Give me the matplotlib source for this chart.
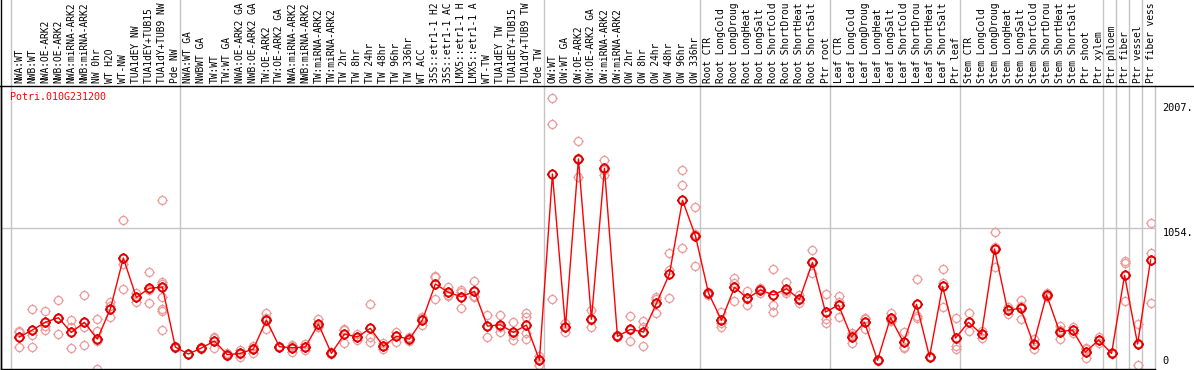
import matplotlib
matplotlib.use("Agg")
import matplotlib.pyplot as plt
from matplotlib.path import Path
from matplotlib.lines import Line2D
import matplotlib.transforms as mtransforms

title = "Potri.010G231200"

labels = [
    "NWA:WT", "NWB:WT", "NWA:OE-ARK2", "NWB:OE-ARK2", "NWA:miRNA-ARK2", "NWB:miRNA-ARK2",
    "NW 0hr", "WT H2O", "WT-NW", "TUA1dEY NW", "TUA1dEY+TUB15 NW", "TUA1dY+TUB9 NW", "Pde NW",
    "NWA:WT GA", "NWBWT GA", "TW:WT", "TW:WT GA", "NWA:OE-ARK2 GA", "NWB:OE-ARK2 GA",
    "TW:OE-ARK2", "TW:OE-ARK2 GA", "NWA:miRNA-ARK2", "NWB:miRNA-ARK2", "TW:miRNA-ARK2",
    "TW:miRNA-ARK2", "TW 2hr", "TW 8hr", "TW 24hr", "TW 48hr", "TW 96hr", "TW 336hr", "WT ACC",
    "35S::etr1-1 H2O", "35S::etr1-1 ACC", "LMX5::etr1-1 H2O", "LMX5::etr1-1 ACC", "WT-TW",
    "TUA1dEY TW", "TUA1dEY+TUB15 TW", "TUA1dY+TUB9 TW", "Pde TW",
    "OW:WT", "OW:WT GA", "OW:OE-ARK2", "OW:OE-ARK2 GA", "OW:miRNA-ARK2", "OW:miRNA-ARK2",
    "OW 2hr", "OW 8hr", "OW 24hr", "OW 48hr", "OW 96hr", "OW 336hr",
    "Root CTR", "Root LongCold", "Root LongDrought", "Root LongHeat", "Root LongSalt",
    "Root ShortCold", "Root ShortDrought", "Root ShortHeat", "Root ShortSalt", "Ptr root",
    "Leaf CTR", "Leaf LongCold", "Leaf LongDrought", "Leaf LongHeat", "Leaf LongSalt",
    "Leaf ShortCold", "Leaf ShortDrought", "Leaf ShortHeat", "Leaf ShortSalt", "Ptr leaf",
    "Stem CTR", "Stem LongCold", "Stem LongDrought", "Stem LongHeat", "Stem LongSalt",
    "Stem ShortCold", "Stem ShortDrought", "Stem ShortHeat", "Stem ShortSalt", "Ptr shoot",
    "Ptr xylem", "Ptr phloem", "Ptr fiber", "Ptr vessel", "Ptr fiber vessel",
]
label_max_chars = 14

group_sizes = [13, 28, 12, 10, 10, 11, 1, 1, 1, 1]

means = [
    223, 276, 335, 370, 258, 335, 207, 436, 825, 525, 594, 604, 146,
    93, 139, 192, 88, 98, 131, 352, 149, 141, 146, 322, 98, 245, 223, 289, 152, 228,
    207, 352, 627, 563, 530, 571, 306, 316, 258, 314, 47,
    1465, 297, 1580, 358, 1509, 228, 281, 261, 480, 703, 1265, 993,
    558, 350, 602, 518, 581, 543, 591, 510, 792, 413,
    467, 223, 335, 45, 370, 182, 472, 72, 609, 215,
    335, 245, 894, 428, 441, 169, 545, 263, 276, 108, 200,
    98, 693, 169, 810,
]

replicates = [
    [271, 258, 144], [434, 238, 144], [421, 276, 308], [502, 243, 365],
    [352, 299, 136], [541, 299, 159], [358, 266, 194, -24], [487, 459, 377],
    [1112, 779, 586], [560, 489, 526], [718, 480, 584],
    [1265, 640, 629, 525, 434, 421, 276], [146, 140, 152],
    [93, 90, 96], [131, 146, 140], [225, 136, 215], [98, 78, 88], [126, 72, 96],
    [154, 98, 141], [403, 286, 367], [156, 146, 145], [159, 111, 153], [167, 146, 125],
    [358, 301, 307], [98, 90, 105], [281, 175, 279], [200, 223, 246], [474, 225, 187],
    [175, 129, 152], [263, 187, 234], [192, 207, 222], [377, 314, 365], [690, 678, 510],
    [606, 537, 546], [581, 441, 568], [650, 537, 526], [390, 220, 308], [390, 258, 300],
    [335, 200, 239], [408, 377, 251, 205], [80, 9, 52],
    [2042, 1844, 515], [327, 263, 301], [1715, 1440, 1585], [428, 297, 349],
    [1572, 1458, 1497], [228, 220, 236], [380, 190, 273], [345, 301, 152],
    [525, 403, 512], [863, 733, 518], [1494, 1384, 899], [1211, 762, 1006],
    [565, 543, 566], [416, 301, 333], [670, 632, 497], [573, 467, 514], [588, 558, 597],
    [739, 467, 411], [640, 556, 577], [543, 480, 507], [884, 708, 784], [550, 358, 332],
    [535, 373, 493], [255, 179, 235], [367, 281, 357], [45, 40, 50], [408, 347, 355],
    [258, 139, 149], [663, 383, 370], [72, 68, 76], [739, 637, 449], [365, 154, 129],
    [403, 266, 336], [271, 215, 249], [1021, 754, 907], [454, 396, 434], [505, 358, 460],
    [129, 169, 209], [560, 545, 530], [276, 207, 306], [297, 276, 255], [136, 60, 128],
    [225, 175, 200], [98, 95, 101], [804, 784, 497], [322, 9, 176], [1089, 863, 480],
]

ytick_values = [2007, 1054, 0]
ytick_labels = ["2007.", "1054.", "0"]
grid_y = [1054]

# ---------------------------------------------------------------
W, H = 1194, 370
fig = plt.figure(figsize=(W / 100, H / 100), dpi=100)
ax_left, ax_right, ax_top, ax_bottom = 1, 1155, 86, 369
ax = fig.add_axes([ax_left / W, (H - ax_bottom) / H,
                   (ax_right - ax_left) / W, (ax_bottom - ax_top) / H])

mono = "DejaVu Sans Mono"
grey = "#c4c4c4"

x = list(range(len(means)))
ax.set_xlim(-1.408, len(means) - 0.66)
ax.set_ylim(-21, 2136)

# marker: circle with 4 small outer ticks
circ = Path.unit_circle()
verts = [tuple(v) for v in circ.vertices]
codes = list(circ.codes)
for dx, dy in [(0, 1), (0, -1), (1, 0), (-1, 0)]:
    verts += [(dx * 1.0, dy * 1.0), (dx * 1.3, dy * 1.3)]
    codes += [Path.MOVETO, Path.LINETO]
mk = Path(verts, codes)

# grid lines
for gy in grid_y:
    ax.axhline(gy, color=grey, lw=1, zorder=0)
top_frac = (ax_bottom - 0) / (ax_bottom - ax_top)
start = 0
bounds = []
for g in group_sizes:
    bounds.append(start - 0.66)
    start += g
for b in bounds:
    ax.axvline(b, ymin=0, ymax=top_frac, color=grey, lw=1, clip_on=False, zorder=0)

# replicates
for i, reps in enumerate(replicates):
    ax.plot([i] * len(reps), reps, linestyle="none", marker=mk, markersize=7.5,
            markerfacecolor="none", markeredgecolor="#ec9a9a", markeredgewidth=0.9,
            zorder=2)

# mean line + markers
ax.plot(x, means, color="#ff0000", lw=1, zorder=3)
ax.plot(x, means, linestyle="none", marker=mk, markersize=7.5,
        markerfacecolor="none", markeredgecolor="#e00000", markeredgewidth=1.4, zorder=4)

# axes styling
ax.set_xticks([])
ax.set_yticks([])
ax.spines["top"].set_visible(False)
ax.spines["right"].set_color(grey)
ax.spines["left"].set_color("black")
ax.spines["bottom"].set_color("black")
for s in ["left", "bottom", "right"]:
    ax.spines[s].set_linewidth(1)
ax.patch.set_alpha(0)

# right-side tick labels
trans = mtransforms.blended_transform_factory(ax.transAxes, ax.transData)
for v, lab in zip(ytick_values, ytick_labels):
    ax.text(1.0065, v, lab, transform=trans, family=mono, fontsize=7.4,
            va="bottom" if v == 0 else "top", ha="left", color="black", clip_on=False)

# title
ax.text(9 / (ax_right - ax_left), 1 - 6 / (ax_bottom - ax_top), title,
        transform=ax.transAxes, family=mono, fontsize=7.2, color="#ff0000",
        va="top", ha="left")

# top labels (rotated), cut to the width the header allows
lab_trans = mtransforms.blended_transform_factory(ax.transData, fig.transFigure)
for i, lab in enumerate(labels):
    ax.text(i, 1 - 83 / H, lab[:label_max_chars], transform=lab_trans, rotation=90,
            family=mono, fontsize=6.9, ha="center", va="bottom", color="black",
            clip_on=False)

# frame lines
fig.add_artist(Line2D([0, 1], [1 - 85.5 / H, 1 - 85.5 / H], transform=fig.transFigure,
                      color="black", lw=1))
fig.add_artist(Line2D([0.8 / W, 0.8 / W], [0, 1], transform=fig.transFigure,
                      color="black", lw=1))

fig.savefig("out.png", dpi=100)
